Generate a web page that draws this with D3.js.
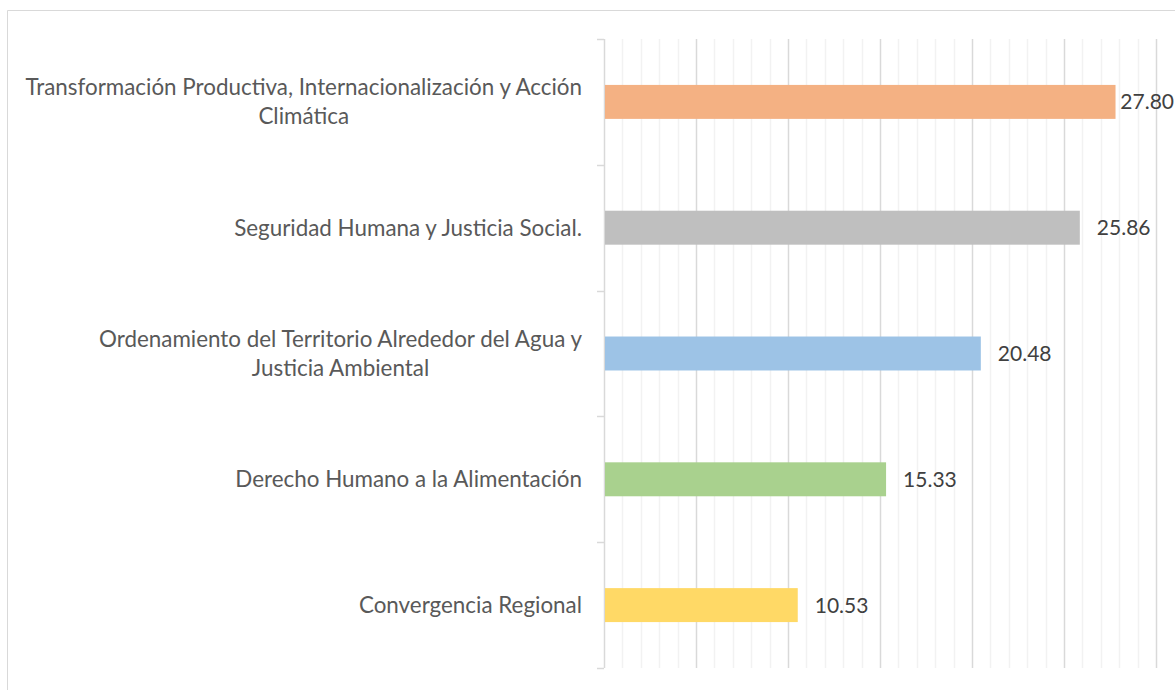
<!DOCTYPE html>
<html>
    <head>
        <meta charset="utf-8">
        <title>Bar Chart</title>
        <script src="https://cdn.jsdelivr.net/npm/d3@7/dist/d3.min.js" charset="utf-8"></script>
        <style>
		body {margin:0; background:#fff;}
		svg {display:block;}
		text {font-family: Lato, "Open Sans", sans-serif;}
		</style>
    </head>
    <body>
        <script>

		var categories = [
			["Transformación Productiva, Internacionalización y Acción", "Climática"],
			["Seguridad Humana y Justicia Social."],
			["Ordenamiento del Territorio Alrededor del Agua y", "Justicia Ambiental"],
			["Derecho Humano a la Alimentación"],
			["Convergencia Regional"]
		];
		var values = [27.80, 25.86, 20.48, 15.33, 10.53];
		var valueLabels = ["27.80", "25.86", "20.48", "15.33", "10.53"];
		var colors = ["#F4B183", "#BFBFBF", "#9DC3E6", "#A9D18E", "#FFD966"];

		var s = {
			width: 1175,
			height: 690,
			left: 604,
			right: 1156,
			top: 39,
			bottom: 668,
			fontSize: 22.4,
			valueFontSize: 21,
			labelRightLimit: 1174
		};

		var canvas = d3.select("body")
			.append("svg")
			.attr("width", s.width)
			.attr("height", s.height);

		// chart area border (cut off on right and bottom)
		canvas.append("path")
			.attr("d", "M7.5," + (s.height + 5) + "V10.5H" + (s.width + 5))
			.attr("fill", "none")
			.attr("stroke", "#d9d9d9")
			.attr("stroke-width", 1);

		var x = d3.scaleLinear()
			.domain([0, 30])
			.range([s.left, s.right]);

		var idx = d3.range(values.length);
		var y = d3.scaleBand()
			.domain(idx)
			.range([s.top, s.bottom])
			.paddingInner(0.73)
			.paddingOuter(0.365);

		var yEdges = d3.scaleLinear()
			.domain([0, values.length])
			.range([s.top, s.bottom]);

		// minor gridlines
		canvas.append("g")
			.selectAll("line")
			.data(d3.range(1, 31).filter(function (d) { return d % 5 != 0; }))
			.enter()
			.append("line")
			.attr("x1", function (d) { return Math.round(x(d)) + 0.5; })
			.attr("x2", function (d) { return Math.round(x(d)) + 0.5; })
			.attr("y1", s.top)
			.attr("y2", s.bottom)
			.attr("stroke", "#f2f2f2")
			.attr("stroke-width", 1.5);

		// major gridlines
		canvas.append("g")
			.selectAll("line")
			.data([5, 10, 15, 20, 25, 30])
			.enter()
			.append("line")
			.attr("x1", function (d) { return Math.round(x(d)) + 0.5; })
			.attr("x2", function (d) { return Math.round(x(d)) + 0.5; })
			.attr("y1", s.top)
			.attr("y2", s.bottom)
			.attr("stroke", "#d9d9d9")
			.attr("stroke-width", 1.5);

		// category axis
		var axis = canvas.append("g");
		axis.append("line")
			.attr("x1", s.left + 0.5).attr("x2", s.left + 0.5)
			.attr("y1", s.top).attr("y2", s.bottom)
			.attr("stroke", "#d9d9d9")
			.attr("stroke-width", 1.5);
		axis.selectAll(".tick")
			.data(d3.range(values.length + 1))
			.enter()
			.append("line")
			.attr("class", "tick")
			.attr("x1", s.left - 7).attr("x2", s.left)
			.attr("y1", function (d) { return Math.round(yEdges(d)) + 0.5; })
			.attr("y2", function (d) { return Math.round(yEdges(d)) + 0.5; })
			.attr("stroke", "#d9d9d9")
			.attr("stroke-width", 1.5);

		// bars
		canvas.append("g")
			.selectAll("rect")
			.data(idx)
			.enter()
			.append("rect")
			.attr("x", x(0) + 1)
			.attr("y", function (d) { return y(d); })
			.attr("width", function (d) { return x(values[d]) - x(0) - 1; })
			.attr("height", y.bandwidth())
			.attr("fill", function (d) { return colors[d]; });

		// value labels
		var vl = canvas.append("g")
			.selectAll("text")
			.data(idx)
			.enter()
			.append("text")
			.attr("y", function (d) { return y(d) + y.bandwidth() / 2; })
			.attr("dy", "0.36em")
			.attr("font-size", s.valueFontSize)
			.attr("fill", "#404040")
			.text(function (d) { return valueLabels[d]; });
		vl.attr("x", function (d) {
			var w = this.getComputedTextLength();
			return Math.min(x(values[d]) + 17, s.labelRightLimit - w);
		});

		// category labels
		var lineH = 29;
		var cl = canvas.append("g")
			.selectAll("text")
			.data(idx)
			.enter()
			.append("text")
			.attr("font-size", s.fontSize)
			.attr("fill", "#595959")
			.attr("text-anchor", "middle");

		cl.each(function (d) {
			var t = d3.select(this);
			var lines = categories[d];
			var cy = y(d) + y.bandwidth() / 2;
			var y0 = cy - (lines.length - 1) * lineH / 2;
			lines.forEach(function (l, i) {
				t.append("tspan")
					.attr("y", y0 + i * lineH)
					.attr("dy", "0.36em")
					.text(l);
			});
			var w = t.select("tspan").node().getComputedTextLength();
			t.selectAll("tspan").attr("x", s.left - 22 - w / 2);
		});

		</script>
    </body>
</html>
